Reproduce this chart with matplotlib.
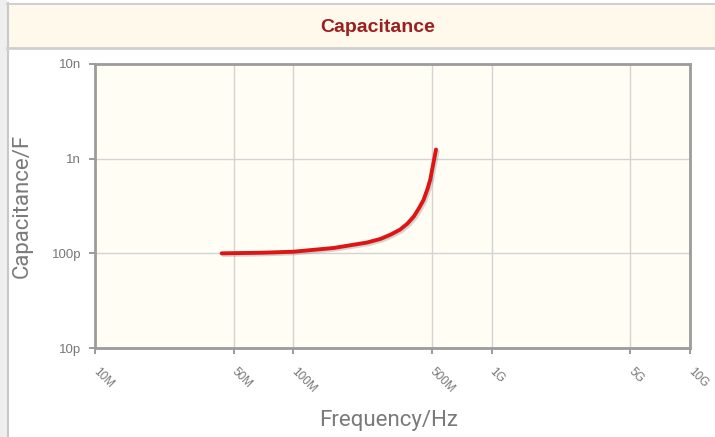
import matplotlib.pyplot as plt
import matplotlib.patheffects as pe
from matplotlib.patches import Rectangle
from matplotlib.lines import Line2D

# data
freq_hz = [43.5e6, 70e6, 100e6, 160e6, 235e6, 275e6, 310e6, 345e6, 375e6,
           405e6, 430e6, 453e6, 475e6, 490e6, 508e6, 524e6]
cap_f = [100e-12, 101.5e-12, 104e-12, 114e-12, 130e-12, 142e-12, 158e-12, 178e-12,
         205e-12, 245e-12, 300e-12, 365e-12, 480e-12, 600e-12, 890e-12, 1.25e-9]

x_ticks = [10e6, 50e6, 100e6, 500e6, 1e9, 5e9, 10e9]
x_labels = ["10M", "50M", "100M", "500M", "1G", "5G", "10G"]
y_ticks = [10e-12, 100e-12, 1e-9, 10e-9]
y_labels = ["10p", "100p", "1n", "10n"]

W, H = 715, 437
fig = plt.figure(figsize=(W / 100, H / 100), dpi=100, facecolor="white")

def px(x, y, w, h):
    # pixel box (top-left origin) -> figure fraction rect
    return (x / W, 1 - (y + h) / H, w / W, h / H)

# page strip on the left and the panel frame
fig.patches.append(Rectangle((0, 0), 7 / W, 1, transform=fig.transFigure,
                             facecolor="#efefef", edgecolor="none", zorder=0))
fig.add_artist(Line2D([7.5 / W, 7.5 / W], [0, 1 - 3 / H], transform=fig.transFigure,
                      color="#c8c8c8", lw=1.5))
r = px(8, 4, W - 8, 44)
fig.patches.append(Rectangle(r[:2], r[2], r[3], transform=fig.transFigure,
                             facecolor="#fef9eb", edgecolor="none", zorder=0))
fig.add_artist(Line2D([7 / W, 1], [1 - 3.5 / H, 1 - 3.5 / H], transform=fig.transFigure,
                      color="#cfcfcf", lw=1.5))
fig.add_artist(Line2D([7 / W, 1], [1 - 48 / H, 1 - 48 / H], transform=fig.transFigure,
                      color="#cfcfcf", lw=2))

fig.text(378 / W, 1 - 27 / H, "Capacitance", ha="center", va="center",
         fontsize=14, fontweight="bold", color="#9b1f1f", family="Liberation Sans")

ax = fig.add_axes(px(95, 64, 595, 284))
ax.set_facecolor("#fffdf4")
ax.set_xscale("log")
ax.set_yscale("log")
ax.set_xlim(10e6, 10e9)
ax.set_ylim(10e-12, 10e-9)

ax.plot(freq_hz, cap_f, color="#dd1515", lw=2.8, solid_capstyle="round",
        path_effects=[pe.SimpleLineShadow(offset=(1.2, -1.2), shadow_color="#888888", alpha=0.35),
                      pe.Normal()], zorder=3)

ax.set_xticks(x_ticks)
ax.set_xticklabels(x_labels)
ax.set_yticks(y_ticks)
ax.set_yticklabels(y_labels)
ax.minorticks_off()
ax.grid(True, color="#d3d3d3", lw=1)
ax.set_axisbelow(True)

for s in ax.spines.values():
    s.set_color("#9c9c9c")
    s.set_linewidth(2)

ax.tick_params(axis="both", colors="#8a8a8a", length=4, width=1.2)
ax.tick_params(axis="y", labelsize=9.5, labelcolor="#777777", pad=6)
ax.tick_params(axis="x", labelsize=8.5, labelcolor="#777777", pad=12)
for t in ax.get_xticklabels():
    t.set_rotation(-45)
    t.set_ha("left")
    t.set_va("center")
    t.set_rotation_mode("anchor")
    t.set_family("Liberation Sans")
for t in ax.get_yticklabels():
    t.set_family("Liberation Sans")

ax.set_xlabel("Frequency/Hz", fontsize=16, color="#7a7a7a", family="Roboto")
ax.xaxis.set_label_coords(0.494, -0.22)
ax.set_ylabel("Capacitance/F", fontsize=16, color="#7a7a7a", family="Roboto")
ax.yaxis.set_label_coords(-0.105, 0.5)

fig.savefig("out.png", dpi=100)
